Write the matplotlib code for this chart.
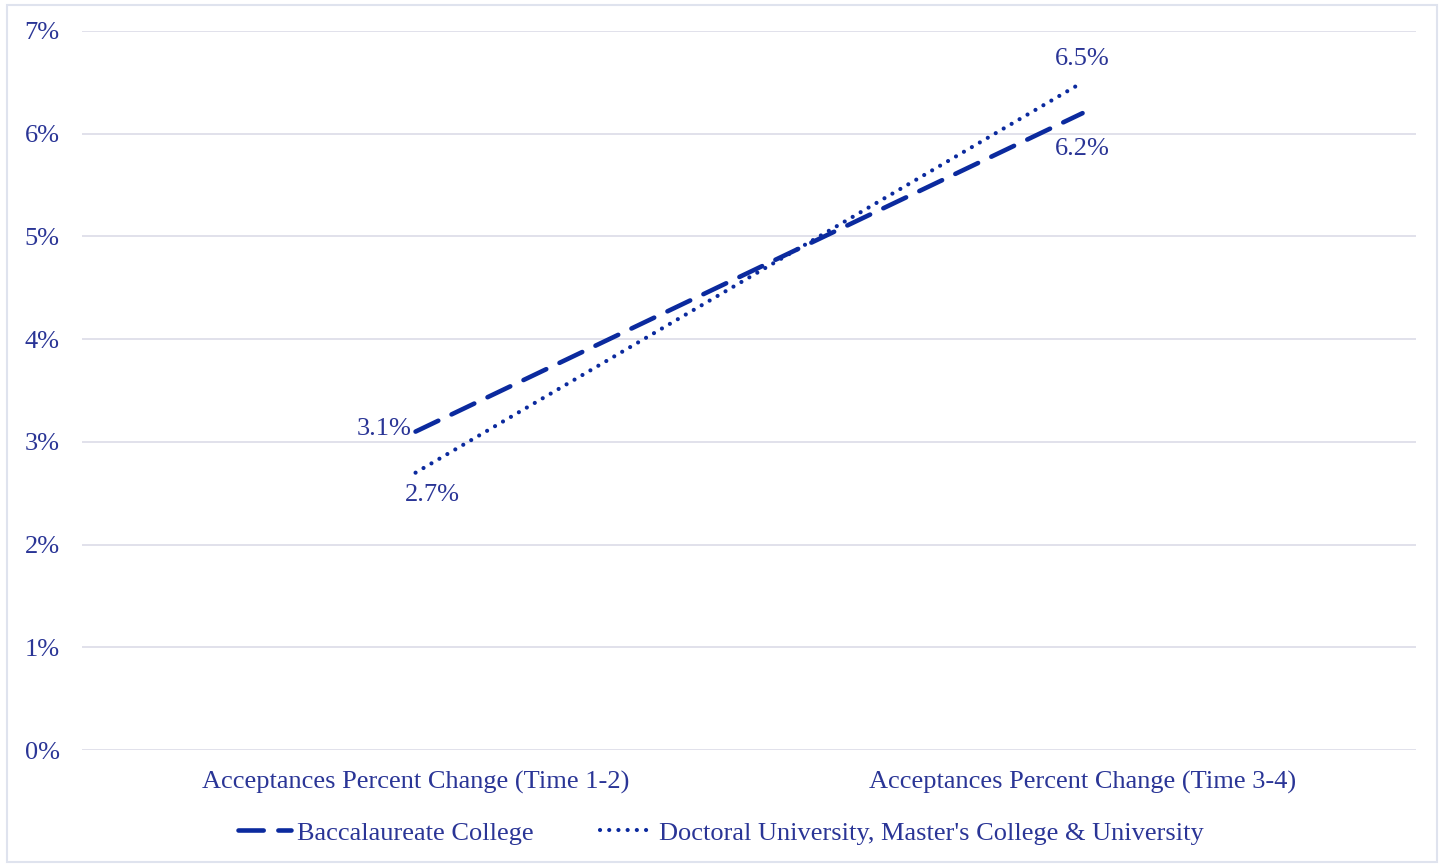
import matplotlib.pyplot as plt
from matplotlib.patches import Rectangle
from matplotlib.ticker import FuncFormatter

categories = ['Acceptances Percent Change (Time 1-2)', 'Acceptances Percent Change (Time 3-4)']
baccalaureate = [3.1, 6.2]
doctoral = [2.7, 6.5]
series_names = ['Baccalaureate College', "Doctoral University, Master's College & University"]
yticks = [0, 1, 2, 3, 4, 5, 6, 7]

line_color = '#0b2a9e'
text_color = '#2a3596'
plt.rcParams['font.family'] = ['Liberation Serif', 'DejaVu Serif']

fig = plt.figure(figsize=(14.42, 8.65), dpi=100)
ax = fig.add_axes([0.0569, 0.1329, 0.9251, 0.8313])

x = list(range(len(categories)))
ax.plot(x, baccalaureate, color=line_color, lw=3.3, linestyle=(0, (5.5, 3.2)),
        dash_capstyle='round', label=series_names[0])
ax.plot(x, doctoral, color=line_color, lw=3, linestyle=(0, (0.01, 2.2)),
        dash_capstyle='round', label=series_names[1])

fs = 19
ax.annotate('3.1%', (0, baccalaureate[0]), xytext=(-3, 2), textcoords='offset points',
            ha='right', va='center', fontsize=fs, color=text_color)
ax.annotate('2.7%', (0, doctoral[0]), xytext=(-8, -8), textcoords='offset points',
            ha='left', va='top', fontsize=fs, color=text_color)
ax.annotate('6.5%', (1, doctoral[1]), xytext=(0, 17), textcoords='offset points',
            ha='center', va='center', fontsize=fs, color=text_color)
ax.annotate('6.2%', (1, baccalaureate[1]), xytext=(0, -26), textcoords='offset points',
            ha='center', va='center', fontsize=fs, color=text_color)

ax.set_xlim(-0.5, 1.5)
ax.set_ylim(0, 7)
ax.set_yticks(yticks)
ax.yaxis.set_major_formatter(FuncFormatter(lambda v, p: f'{v:.0f}%'))
ax.set_xticks(x)
ax.set_xticklabels(categories)
ax.tick_params(axis='both', length=0, labelsize=fs, labelcolor=text_color)
ax.tick_params(axis='y', pad=16)
ax.tick_params(axis='x', pad=15)
ax.grid(axis='y', color='#dcdce8', lw=1.2)
ax.set_axisbelow(True)
for s in ax.spines.values():
    s.set_visible(False)

fig.legend(loc='center', bbox_to_anchor=(0.5, 0.037), ncol=2, frameon=False,
           fontsize=fs, labelcolor=text_color, handlelength=2.0, handletextpad=0.25,
           columnspacing=2.5)

fig.patches.append(Rectangle((7 / 1442, 3 / 865), 1430 / 1442, 857 / 865,
                             transform=fig.transFigure, fill=False,
                             edgecolor='#dfe3ee', lw=1.5))

fig.savefig('out.png', dpi=100)
